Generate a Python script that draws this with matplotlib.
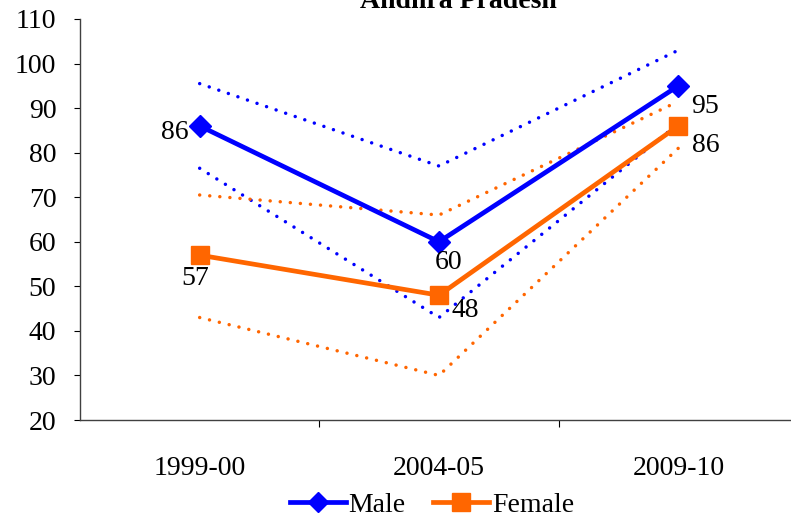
# Andhra Pradesh - male / female estimates with confidence bounds
import numpy as np
import matplotlib.pyplot as plt

plt.rcParams['font.family'] = ['Liberation Serif', 'DejaVu Serif']

# Data
years = ['1999-00', '2004-05', '2009-10']
male = [86, 60, 95]
female = [57, 48, 86]
male_upper = [95.5, 77, 103]
male_lower = [76.5, 43, 86.5]
female_upper = [70.5, 66, 91.5]
female_lower = [43, 30, 81]

blue = '#0000FF'
orange = '#FF6600'

fig = plt.figure(figsize=(7.91, 5.21), dpi=100)
ax = fig.add_axes([80 / 791, 101 / 521, 718 / 791, 401 / 521])
x = np.arange(len(years))

# dotted bounds
dots = dict(linestyle=(0, (0.01, 2.9)), linewidth=2.5, dash_capstyle='round')
ax.plot(x, male_upper, color=blue, **dots)
ax.plot(x, male_lower, color=blue, **dots)
ax.plot(x, female_upper, color=orange, **dots)
ax.plot(x, female_lower, color=orange, **dots)

# main series
ax.plot(x, male, color=blue, linewidth=3.4, marker='D', markersize=11, label='Male')
ax.plot(x, female, color=orange, linewidth=3.4, marker='s', markersize=13, label='Female')

# value labels
male_off = [(-8, -5), (7, -15), (19, -15)]
male_ha = ['right', 'center', 'center']
for i, v in enumerate(male):
    ax.annotate(str(v), (x[i], v), xytext=male_off[i], textcoords='offset points',
                ha=male_ha[i], va='center', fontsize=20)
female_off = [(-3, -17), (19, -11), (20, -14)]
for i, v in enumerate(female):
    ax.annotate(str(v), (x[i], v), xytext=female_off[i], textcoords='offset points',
                ha='center', va='center', fontsize=20)

ax.set_xlim(-0.5, 2.5)
ax.set_ylim(20, 110)
ax.set_yticks(range(20, 111, 10))
ax.tick_params(axis='y', labelsize=20, length=4, pad=13, color='black')

# category ticks between groups, labels centred under each point
ax.set_xticks([0.5, 1.5])
ax.set_xticklabels([])
ax.tick_params(axis='x', which='major', length=5)
ax.set_xticks(x, minor=True)
ax.set_xticklabels(years, minor=True)
ax.tick_params(axis='x', which='minor', length=0, labelsize=20, pad=26)

for s in ['top', 'right']:
    ax.spines[s].set_visible(False)
for s in ['left', 'bottom']:
    ax.spines[s].set_color('#404040')
    ax.spines[s].set_linewidth(1)

fig.text(458 / 791, 1 - 8 / 521, 'Andhra Pradesh', ha='center', va='baseline',
         fontsize=20, fontweight='bold')

fig.legend(loc='center', bbox_to_anchor=(432 / 791, 1 - 505 / 521), ncol=2, frameon=False,
           fontsize=20, handlelength=2.0, handletextpad=0.1, columnspacing=1.0,
           borderpad=0, markerscale=0.95)

fig.savefig('out.png', dpi=100)
